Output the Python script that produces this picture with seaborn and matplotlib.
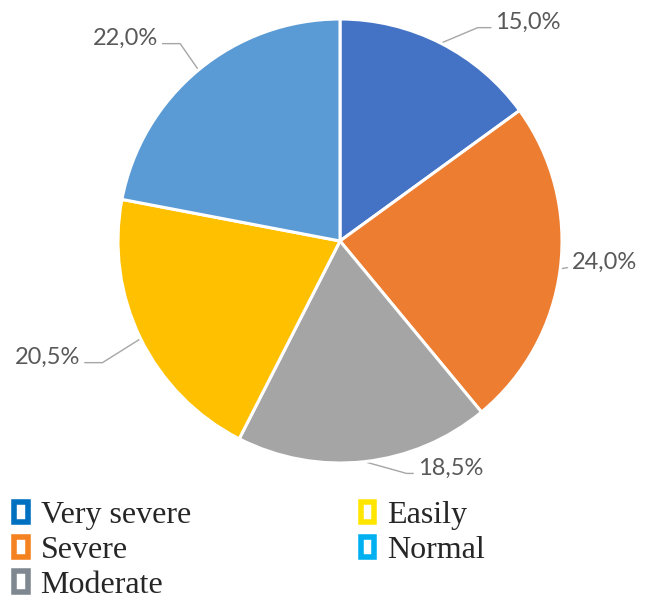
import matplotlib
matplotlib.use("Agg")
import matplotlib.pyplot as plt
import seaborn as sns
import numpy as np
import pandas as pd
from matplotlib.patches import Rectangle

categories = ["Very severe", "Severe", "Moderate", "Easily", "Normal"]
percentages = [15.0, 24.0, 18.5, 20.5, 22.0]
label_texts = ["15,0%", "24,0%", "18,5%", "20,5%", "22,0%"]
pie_colors = ["#4472C4", "#ED7D31", "#A5A5A5", "#FFC000", "#5B9BD5"]
legend_colors = ["#0070C0", "#F58220", "#7F8890", "#FFE600", "#00B0F0"]

# label layout (in pie-radius units): text anchor x, y, alignment, elbow offset
label_layout = [
    (0.70, 0.986, "left", 0.06),
    (1.045, -0.095, "left", 0.0),
    (0.35, -1.022, "left", 0.03),
    (-1.17, -0.523, "right", 0.08),
    (-0.82, 0.914, "right", 0.08),
]

sns.set_theme(style="white")
plt.rcParams['font.family'] = ['Lato', 'DejaVu Sans']

W, H = 672, 601
fig = plt.figure(figsize=(W / 100, H / 100), dpi=100)
fig.patch.set_facecolor("white")
cx, cy, R = 340, 241, 222
ax = fig.add_axes([(cx - R) / W, (H - cy - R) / H, 2 * R / W, 2 * R / H])

df = pd.DataFrame({"category": categories, "pct": percentages})
wedges, _ = ax.pie(df["pct"], colors=pie_colors, startangle=90, counterclock=False,
                   radius=1, wedgeprops=dict(edgecolor="white", linewidth=2.2))
ax.set_xlim(-1, 1)
ax.set_ylim(-1, 1)
ax.set_axis_off()

cum = np.cumsum([0] + percentages[:-1])
for i, (p, c0) in enumerate(zip(percentages, cum)):
    mid = np.deg2rad(90 - 360 * (c0 + p / 2) / 100)
    ex, ey = np.cos(mid), np.sin(mid)
    tx, ty, ha, edx = label_layout[i]
    d = 1 if ha == "left" else -1
    ly = ty - 0.025
    xs = [ex, tx - d * (0.02 + edx), tx - d * 0.02]
    ys = [ey, ly, ly]
    ax.plot(xs, ys, color="#A6A6A6", lw=1.0, clip_on=False, zorder=0.5)
    ax.text(tx, ty, label_texts[i], ha=ha, va="center", fontsize=17,
            color="#595959", clip_on=False)

handles = [Rectangle((0, 0), 1, 1, facecolor="white", edgecolor=c, linewidth=4.0)
           for c in legend_colors]
leg = fig.legend(handles, categories, loc="upper left", bbox_to_anchor=(0.0, 1 - 487 / H),
                 ncol=2, frameon=False,
                 prop={"family": "Liberation Serif", "size": 23},
                 handlelength=0.42, handleheight=0.6, handletextpad=0.4,
                 labelspacing=0.18, columnspacing=5.32, borderaxespad=0, borderpad=0.45)

fig.savefig("out.png", dpi=100, facecolor="white")
